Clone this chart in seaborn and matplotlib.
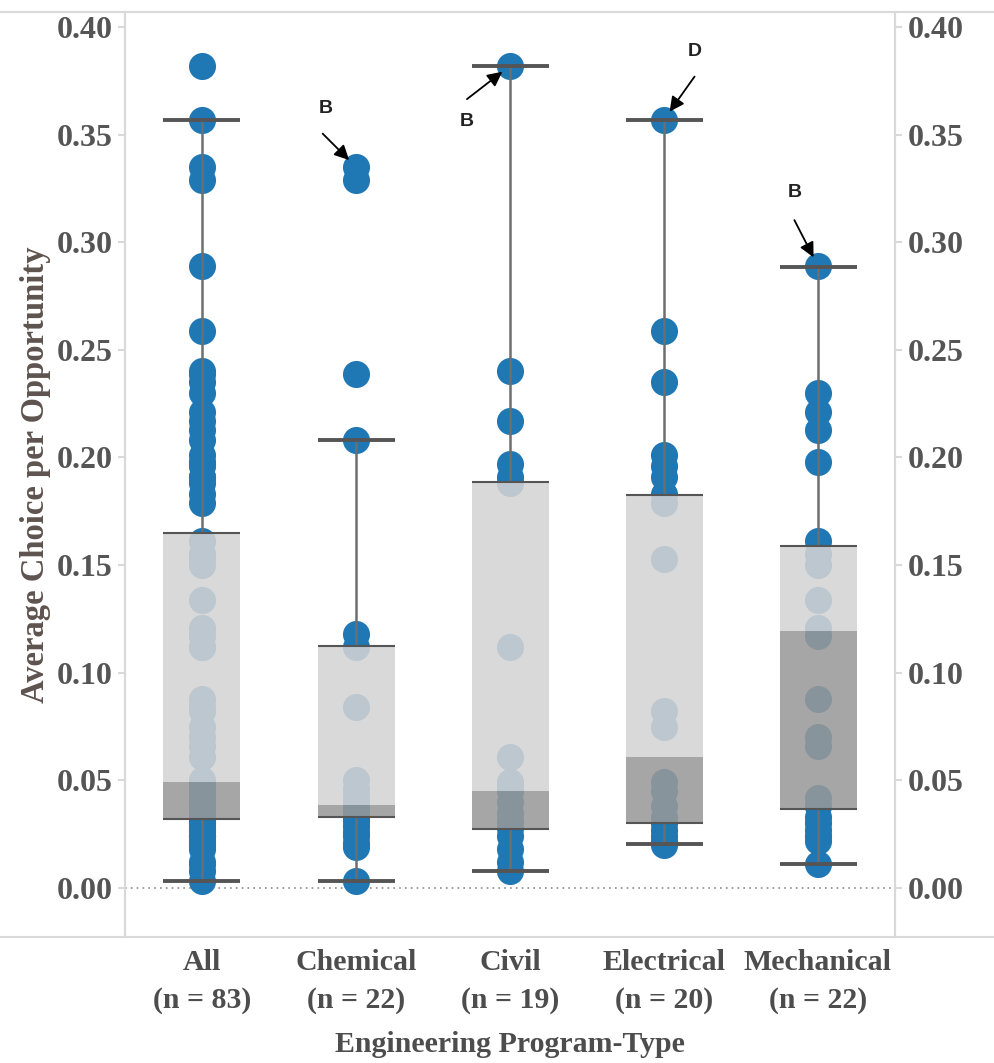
import numpy as np
import pandas as pd
import seaborn as sns
import matplotlib.pyplot as plt
from matplotlib.lines import Line2D

# Values per program
chemical = [0.335, 0.329, 0.239, 0.208, 0.118, 0.112, 0.084, 0.050, 0.046, 0.043, 0.040,
            0.038, 0.036, 0.034, 0.033, 0.031, 0.029, 0.026, 0.024, 0.021, 0.019, 0.003]
civil = [0.382, 0.240, 0.217, 0.197, 0.191, 0.188, 0.112, 0.061, 0.049, 0.047,
         0.045, 0.040, 0.035, 0.031, 0.028, 0.024, 0.018, 0.012, 0.008]
electrical = [0.357, 0.259, 0.235, 0.201, 0.196, 0.191, 0.183, 0.179, 0.153, 0.082,
              0.075, 0.049, 0.045, 0.038, 0.033, 0.030, 0.027, 0.024, 0.022, 0.020]
mechanical = [0.289, 0.230, 0.221, 0.213, 0.198, 0.161, 0.155, 0.150, 0.134, 0.121, 0.117,
              0.088, 0.070, 0.066, 0.042, 0.038, 0.033, 0.030, 0.027, 0.024, 0.022, 0.011]
# "All" pools every program together
all_programs = chemical + civil + electrical + mechanical

groups = ["All", "Chemical", "Civil", "Electrical", "Mechanical"]
counts = [83, 22, 19, 20, 22]

# Box statistics as shown in the chart
q1 = [0.032, 0.033, 0.0275, 0.030, 0.0367]
median = [0.049, 0.0386, 0.0452, 0.061, 0.1196]
q3 = [0.165, 0.1126, 0.1888, 0.1826, 0.159]
whisker_low = [0.003, 0.003, 0.008, 0.0204, 0.011]
whisker_high = [0.357, 0.208, 0.382, 0.357, 0.2886]

# Notes: group, value, letter, text offset and arrow tail offset (points)
notes = [
    ("Chemical", 0.335, "B", (-22, 42), (-24, 24)),
    ("Civil", 0.382, "B", (-31, -40), (-31, -24)),
    ("Electrical", 0.357, "D", (22, 49), (22, 31)),
    ("Mechanical", 0.289, "B", (-17, 53), (-17, 33)),
]

y_ticks = [0.00, 0.05, 0.10, 0.15, 0.20, 0.25, 0.30, 0.35, 0.40]

# Long-form table
values = [all_programs, chemical, civil, electrical, mechanical]
df = pd.DataFrame({
    "group": np.repeat(groups, [len(v) for v in values]),
    "value": np.concatenate(values),
})

# Settings
sns.set_style("white")
plt.rcParams["font.family"] = ["Liberation Serif", "DejaVu Serif"]

fig = plt.figure(figsize=(9.95, 10.63), dpi=100)
ax = fig.add_axes([125 / 995, 1 - 937 / 1063, 770 / 995, 925 / 1063])

blue = "#1f77b4"
frame = "#d9d9d9"

# Dots
sns.stripplot(data=df, x="group", y="value", order=groups, jitter=False,
              size=19.5, color=blue, linewidth=0, ax=ax, zorder=1)

x = np.arange(len(groups))
half = 0.25

# Whiskers
ax.vlines(x, q3, whisker_high, color="#6e6e6e", lw=1.8, zorder=2)
ax.vlines(x, whisker_low, q1, color="#6e6e6e", lw=1.8, zorder=2)

# Boxes: lower part (q1 -> median) dark, upper part (median -> q3) light
lower = np.array(median) - np.array(q1)
upper = np.array(q3) - np.array(median)
ax.bar(x, lower, bottom=q1, width=2 * half, color="#999999", alpha=0.87, lw=0, zorder=3)
ax.bar(x, upper, bottom=median, width=2 * half, color="#d4d4d4", alpha=0.87, lw=0, zorder=3)
ax.hlines(q1, x - half, x + half, color="#555555", lw=1.5, zorder=4)
ax.hlines(q3, x - half, x + half, color="#555555", lw=1.5, zorder=4)

# Caps
ax.hlines(whisker_high, x - half, x + half, color="#555555", lw=2.8, zorder=4)
ax.hlines(whisker_low, x - half, x + half, color="#555555", lw=2.8, zorder=4)

# Zero line
ax.axhline(0, color="#8c8c8c", lw=1.2, ls=(0, (1, 2.5)), zorder=0)

# Annotations
for group, val, letter, text_off, tail_off in notes:
    point = (groups.index(group), val)
    ax.annotate(letter, xy=point, xytext=text_off, textcoords="offset points",
                ha="center", va="center", fontsize=14, fontweight="bold",
                family="Liberation Sans", color="#222222", zorder=6)
    ax.annotate("", xy=point, xytext=tail_off, textcoords="offset points",
                arrowprops=dict(arrowstyle="-|>", color="black", lw=1.3,
                                mutation_scale=22, shrinkA=0, shrinkB=7),
                zorder=6)

# Axes
ax.set_xlim(-0.5, len(groups) - 0.5)
ax.set_ylim(-0.0228, 0.407)
ax.set_xticks(x)
ax.set_xticklabels([f"{g}\n(n = {n})" for g, n in zip(groups, counts)],
                   fontweight="bold", linespacing=1.5)
ax.set_xticks(np.arange(len(groups) + 1) - 0.5, minor=True)
ax.tick_params(axis="x", which="major", length=0, pad=9, labelsize=21.5, labelcolor="#4d4d4d")
ax.tick_params(axis="x", which="minor", length=6, width=1.5, color=frame, direction="out")
ax.set_xlabel("Engineering Program-Type", fontsize=21.5, fontweight="bold",
              color="#4d4d4d", labelpad=12)

ax.set_yticks(y_ticks)
ax.set_yticklabels([f"{t:.2f}" for t in y_ticks], fontweight="bold")
ax.tick_params(axis="y", length=5, width=1.5, color=frame, pad=4,
               labelsize=23, labelcolor="#555555", left=True)
ax.set_ylabel("Average Choice per Opportunity", fontsize=23.5, fontweight="bold",
              color="#5e534e", labelpad=4)

ax2 = ax.twinx()
ax2.set_ylim(ax.get_ylim())
ax2.set_yticks(y_ticks)
ax2.set_yticklabels([f"{t:.2f}" for t in y_ticks], fontweight="bold")
ax2.tick_params(axis="y", length=5, width=1.5, color=frame, pad=4,
                labelsize=23, labelcolor="#555555", right=True)

for a in (ax, ax2):
    for side in ("top", "bottom"):
        a.spines[side].set_visible(False)
    for side in ("left", "right"):
        a.spines[side].set_color(frame)
        a.spines[side].set_linewidth(1.5)

# Frame lines across the full width
fig.add_artist(Line2D([0, 1], [1 - 12 / 1063] * 2, color=frame, lw=1.5))
fig.add_artist(Line2D([0, 1], [1 - 937 / 1063] * 2, color=frame, lw=1.5))

plt.savefig("out.png", dpi=100)
